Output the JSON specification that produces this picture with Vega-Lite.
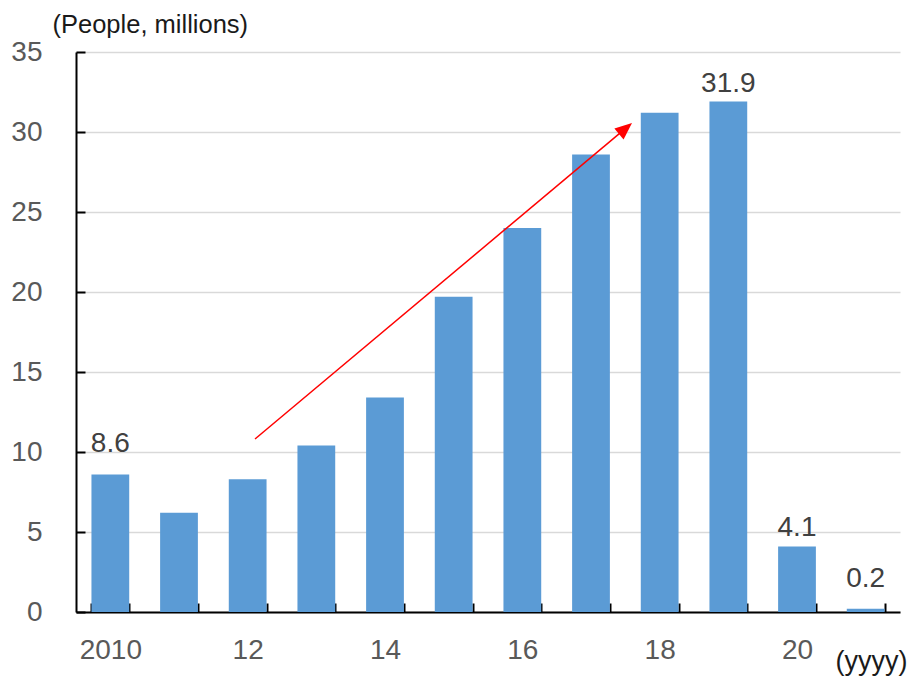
{
  "$schema": "https://vega.github.io/schema/vega-lite/v6.json",
  "width": 824,
  "height": 560,
  "autosize": {"type": "none"},
  "padding": {"left": 76, "top": 52, "right": 12, "bottom": 65},
  "config": {"font": "Liberation Sans", "view": {"stroke": null}},
  "datasets": {
    "bars": [
      {"year": 2010, "value": 8.6},
      {"year": 2011, "value": 6.2},
      {"year": 2012, "value": 8.3},
      {"year": 2013, "value": 10.4},
      {"year": 2014, "value": 13.4},
      {"year": 2015, "value": 19.7},
      {"year": 2016, "value": 24.0},
      {"year": 2017, "value": 28.6},
      {"year": 2018, "value": 31.2},
      {"year": 2019, "value": 31.9},
      {"year": 2020, "value": 4.1},
      {"year": 2021, "value": 0.2}
    ],
    "arrow": [
      {"year": 2012.107, "value": 10.81},
      {"year": 2017.508, "value": 30.24}
    ],
    "tip": [
      {"year": 2017.597, "value": 30.56}
    ]
  },
  "layer": [
    {
      "data": {"name": "bars"},
      "encoding": {
        "x": {
          "field": "year",
          "type": "ordinal",
          "scale": {"paddingInner": 0.45, "paddingOuter": 0.225},
          "axis": {
            "title": "(yyyy)",
            "titleX": 759,
            "titleY": 57,
            "titleAlign": "left",
            "titleBaseline": "alphabetic",
            "titleFontSize": 27,
            "titleFontWeight": "normal",
            "titleColor": "#1a1a1a",
            "labelAngle": 0,
            "labelExpr": "datum.value == 2010 ? '2010' : (datum.value % 2 == 0 ? substring(datum.label, 2, 4) : '')",
            "labelFontSize": 28,
            "labelColor": "#595959",
            "labelPadding": 33,
            "tickBand": "extent",
            "tickSize": -9,
            "tickColor": "#000000",
            "tickWidth": 2,
            "domainColor": "#000000",
            "domainWidth": 2,
            "grid": false
          }
        },
        "y": {
          "field": "value",
          "type": "quantitative",
          "scale": {"domain": [0, 35], "nice": false},
          "axis": {
            "title": "(People, millions)",
            "titleAngle": 0,
            "titleAlign": "left",
            "titleX": -24,
            "titleY": -20,
            "titleBaseline": "alphabetic",
            "titleFontSize": 25.5,
            "titleFontWeight": "normal",
            "titleColor": "#1a1a1a",
            "values": [0, 5, 10, 15, 20, 25, 30, 35],
            "labelFontSize": 28,
            "labelColor": "#595959",
            "labelPadding": 43,
            "tickSize": -9,
            "tickColor": "#000000",
            "tickWidth": 2,
            "domainColor": "#000000",
            "domainWidth": 2,
            "gridColor": "#d9d9d9",
            "gridWidth": 1.5
          }
        }
      },
      "layer": [
        {"mark": {"type": "bar", "color": "#5b9bd5"}},
        {
          "transform": [{"filter": "datum.year == 2010 || datum.year == 2021"}],
          "mark": {"type": "text", "baseline": "alphabetic", "dy": -22, "fontSize": 28, "color": "#404040"},
          "encoding": {"text": {"field": "value", "type": "quantitative", "format": ".1f"}}
        },
        {
          "transform": [{"filter": "datum.year == 2019 || datum.year == 2020"}],
          "mark": {"type": "text", "baseline": "alphabetic", "dy": -10, "fontSize": 28, "color": "#404040"},
          "encoding": {"text": {"field": "value", "type": "quantitative", "format": ".1f"}}
        }
      ]
    },
    {
      "layer": [
        {
          "data": {"name": "arrow"},
          "mark": {"type": "line", "color": "#ff0000", "strokeWidth": 1.5},
          "encoding": {
            "x": {"field": "year", "type": "quantitative", "scale": {"domain": [2009.5, 2021.5], "nice": false, "zero": false}, "axis": null},
            "y": {"field": "value", "type": "quantitative"}
          }
        },
        {
          "data": {"name": "tip"},
          "mark": {"type": "point", "shape": "M0,0 L0.42,1 L-0.42,1 Z", "size": 1156, "angle": 50, "filled": true, "color": "#ff0000", "opacity": 1},
          "encoding": {
            "x": {"field": "year", "type": "quantitative", "scale": {"domain": [2009.5, 2021.5], "nice": false, "zero": false}, "axis": null},
            "y": {"field": "value", "type": "quantitative"}
          }
        }
      ]
    }
  ],
  "resolve": {"scale": {"x": "independent"}}
}
